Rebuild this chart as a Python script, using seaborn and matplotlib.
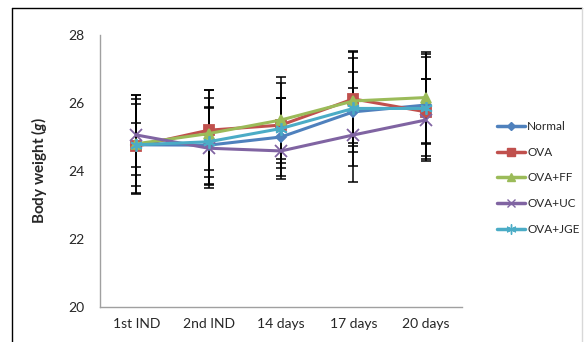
import numpy as np
import pandas as pd
import matplotlib
matplotlib.use("Agg")
import matplotlib.pyplot as plt
import seaborn as sns
from matplotlib.lines import Line2D

# ---------------------------
# Data
# ---------------------------
days = ["1st IND", "2nd IND", "14 days", "17 days", "20 days"]
groups = ["Normal", "OVA", "OVA+FF", "OVA+UC", "OVA+JGE"]

normal = [24.77, 24.76, 25.00, 25.74, 25.94]
ova = [24.73, 25.20, 25.35, 26.12, 25.74]
ova_ff = [24.80, 25.10, 25.50, 26.06, 26.16]
ova_uc = [25.06, 24.67, 24.59, 25.06, 25.50]
ova_jge = [24.77, 24.86, 25.25, 25.84, 25.84]

normal_sd = [1.20, 1.13, 1.15, 1.18, 1.50]
ova_sd = [1.40, 1.18, 1.25, 1.39, 0.96]
ova_ff_sd = [1.45, 1.28, 1.27, 1.25, 1.35]
ova_uc_sd = [1.18, 1.17, 0.83, 1.39, 1.20]
ova_jge_sd = [0.64, 1.28, 0.90, 1.68, 1.50]

means = [normal, ova, ova_ff, ova_uc, ova_jge]
sds = [normal_sd, ova_sd, ova_ff_sd, ova_uc_sd, ova_jge_sd]

colors = ["#4F81BD", "#C0504D", "#9BBB59", "#8064A2", "#4BACC6"]
markers = ["D", "s", "^", "x", (6, 2, 0)]
msizes = [5, 7, 7, 8, 9]

rows = []
for g, m in zip(groups, means):
    for i, v in enumerate(m):
        rows.append({"group": g, "day": i, "weight": v})
df = pd.DataFrame(rows)

# ---------------------------
# Plot
# ---------------------------
sns.set_style("white")
plt.rcParams["font.family"] = ["Lato", "DejaVu Sans"]
plt.rcParams["mathtext.fontset"] = "custom"
plt.rcParams["mathtext.it"] = "Lato:italic:bold"

fig = plt.figure(figsize=(5.84, 3.42), dpi=100)
ax = fig.add_axes([100 / 584, 35 / 342, 362 / 584, 272 / 342])

sns.lineplot(data=df, x="day", y="weight", hue="group", hue_order=groups,
             palette=colors, linewidth=2.2, ax=ax, legend=False, zorder=3)
series_lines = list(ax.lines)

for line, mk, ms, c in zip(series_lines, markers, msizes, colors):
    line.set_marker(mk)
    line.set_markersize(ms)
    line.set_markerfacecolor(c)
    line.set_markeredgecolor(c)
    line.set_markeredgewidth(1.3)

# error bars behind the lines
for g, m, s in zip(groups, means, sds):
    ax.errorbar(range(len(days)), m, yerr=s, fmt="none", ecolor="black",
                elinewidth=1.1, capsize=3.5, capthick=1.1, zorder=1)

ax.set_xlim(-0.5, len(days) - 0.5)
ax.set_ylim(20, 28)
ax.set_yticks([20, 22, 24, 26, 28])
ax.set_xticks(np.arange(-0.5, len(days), 1.0))
ax.set_xticklabels([])
ax.set_xticks(range(len(days)), minor=True)
ax.set_xticklabels(days, minor=True)
ax.tick_params(axis="x", which="minor", length=0, labelsize=10, pad=8)
ax.tick_params(axis="x", which="major", length=5, color="#A0A0A0",
               direction="out")
ax.tick_params(axis="y", length=5, color="#A0A0A0", direction="out",
               labelsize=10, pad=6)
ax.set_xlabel("")
ax.set_ylabel(r"Body weight ($\it{g}$)", fontsize=11, fontweight="bold",
              labelpad=14)

for side in ["top", "right"]:
    ax.spines[side].set_visible(False)
for side in ["left", "bottom"]:
    ax.spines[side].set_color("#A0A0A0")
    ax.spines[side].set_linewidth(1)

handles = [Line2D([0], [0], color=c, marker=mk, markersize=ms * 0.8,
                  markerfacecolor=c, markeredgecolor=c, linewidth=2.5)
           for c, mk, ms in zip(colors, markers, msizes)]
fig.legend(handles, groups, loc="center left",
           bbox_to_anchor=(486 / 584, 1 - 178 / 342), frameon=False,
           fontsize=8.5, handlelength=2.4, labelspacing=1.25,
           handletextpad=0.2)

# chart frame
fig.add_artist(Line2D([12 / 584, 12 / 584], [0, 1 - 8 / 342],
                      transform=fig.transFigure, color="black", lw=1))
fig.add_artist(Line2D([12 / 584, 582 / 584], [1 - 8 / 342, 1 - 8 / 342],
                      transform=fig.transFigure, color="black", lw=1))
fig.add_artist(Line2D([582 / 584, 582 / 584], [0, 1 - 8 / 342],
                      transform=fig.transFigure, color="#D8D8D8", lw=1))

fig.savefig("out.png", dpi=100)
